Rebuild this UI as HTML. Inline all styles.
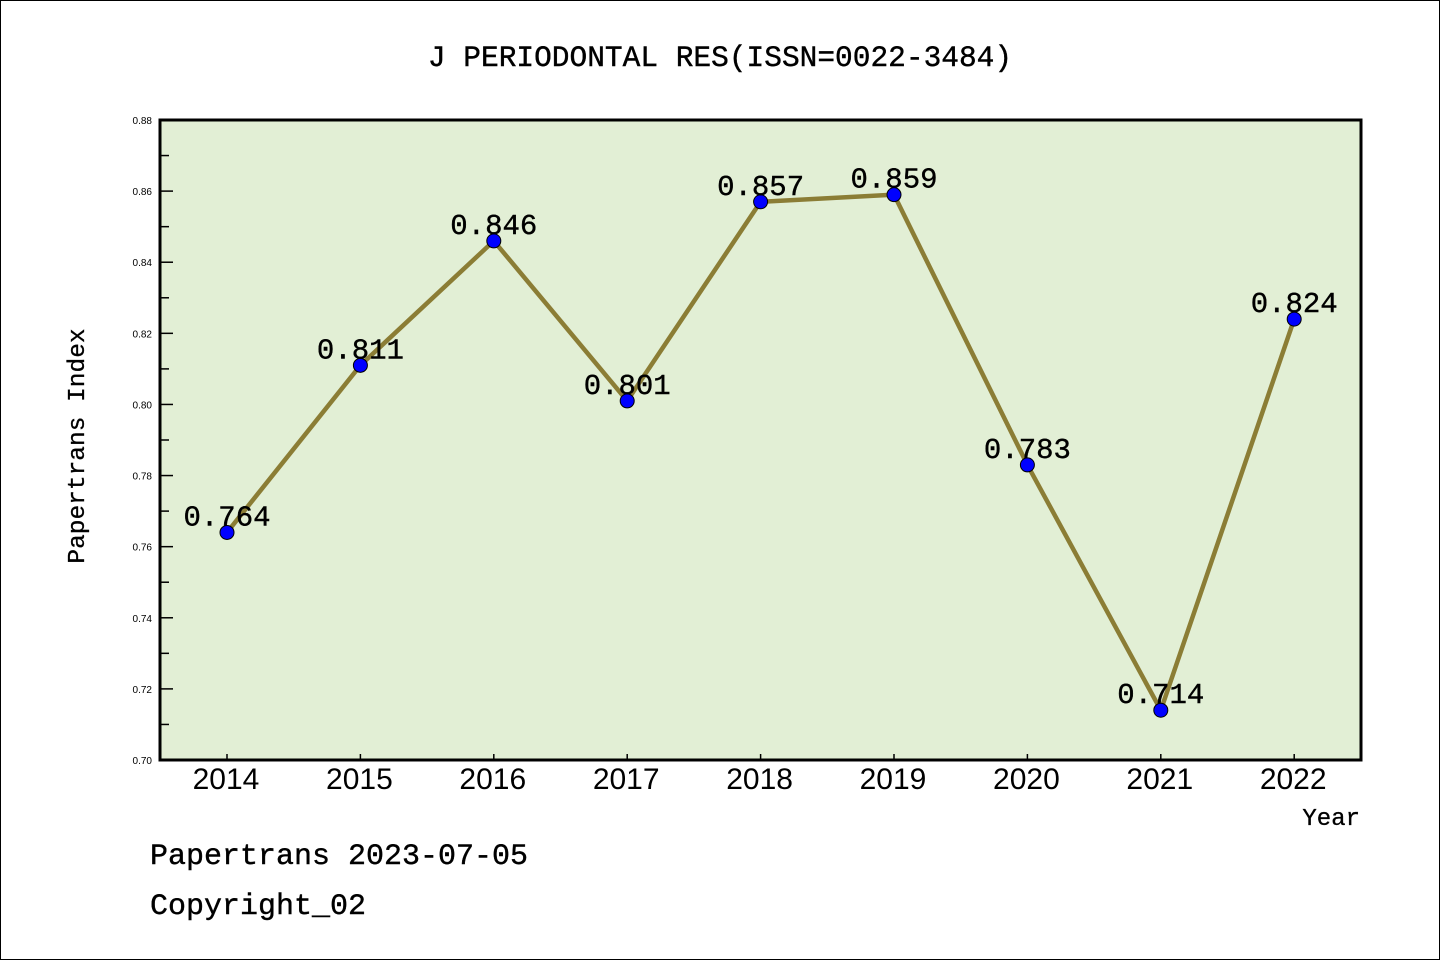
<!DOCTYPE html>
<html><head><meta charset="utf-8"><style>
html,body{margin:0;padding:0;background:#fff;}
svg{display:block;}
</style></head><body>
<svg id="chart" width="1440" height="960" xmlns="http://www.w3.org/2000/svg">
<rect x="0.5" y="0.5" width="1439" height="959" fill="#fff" stroke="#000" stroke-width="1"/>
<text x="720" y="66" text-anchor="middle" font-family="Liberation Mono, monospace" font-size="29.5" stroke="#000" stroke-width="0.4">J PERIODONTAL RES(ISSN=0022-3484)</text>
<rect x="160" y="120" width="1201" height="640" fill="#e2efd5"/>
<g id="axes"></g>
<g id="series"></g>
<rect x="160" y="120" width="1201" height="640" fill="none" stroke="#000" stroke-width="3"/>
<text transform="translate(84,446) rotate(-90)" text-anchor="middle" font-family="Liberation Mono, monospace" font-size="24.5" stroke="#000" stroke-width="0.3">Papertrans Index</text>
<text x="1360" y="825" text-anchor="end" font-family="Liberation Mono, monospace" font-size="24" stroke="#000" stroke-width="0.3">Year</text>
<text x="150" y="864" font-family="Liberation Mono, monospace" font-size="30" stroke="#000" stroke-width="0.4">Papertrans 2023-07-05</text>
<text x="150" y="914" font-family="Liberation Mono, monospace" font-size="30" stroke="#000" stroke-width="0.4">Copyright_02</text>
</svg>
<script>
const years = ["2014","2015","2016","2017","2018","2019","2020","2021","2022"];
const values = [0.764,0.811,0.846,0.801,0.857,0.859,0.783,0.714,0.824];
const yTicks = ["0.70","0.72","0.74","0.76","0.78","0.80","0.82","0.84","0.86","0.88"];
const NS="http://www.w3.org/2000/svg";
const yMin=0.70,yMax=0.88,plotTop=120,plotBot=760,plotLeft=160;
function ys(v){return plotBot-(v-yMin)/(yMax-yMin)*(plotBot-plotTop);}
function xs(i){return 227+i*133.4;}
function mk(t,a,p){const e=document.createElementNS(NS,t);for(const k in a)e.setAttribute(k,a[k]);p.appendChild(e);return e;}
const axesG=document.getElementById('axes'),serG=document.getElementById('series');
yTicks.forEach((t,i)=>{
  const v=parseFloat(t),y=ys(v);
  const l=mk('line',{x1:plotLeft,x2:plotLeft+13,y1:y,y2:y,stroke:'#000','stroke-width':1.5},axesG);
  
  
  const tx=mk('text',{x:152,y:y+4,'text-anchor':'end','font-family':'Liberation Sans, sans-serif','font-size':10},axesG);
  tx.textContent=t;
  
  
  if(i<yTicks.length-1){
    const ym=ys(v+0.01);
    const m=mk('line',{x1:plotLeft,x2:plotLeft+9,y1:ym,y2:ym,stroke:'#000','stroke-width':1.5},axesG);
    
    
  }
});
years.forEach((yr,i)=>{
  const x=xs(i);
  const l=mk('line',{x1:x,x2:x,y1:plotBot,y2:plotBot-6,stroke:'#000','stroke-width':1.5},axesG);
  
  
  const tx=mk('text',{x:x-1,y:789,'text-anchor':'middle','font-family':'Liberation Sans, sans-serif','font-size':30},axesG);
  tx.textContent=yr;
  
  
});
const pl=mk('polyline',{points:values.map((v,i)=>xs(i)+','+ys(v)).join(' '),fill:'none',stroke:'#8b7d35','stroke-width':4.5,'stroke-linejoin':'round'},serG);


values.forEach((v,i)=>{
  const c=mk('circle',{cx:xs(i),cy:ys(v),r:7,fill:'#0000ff',stroke:'#000','stroke-width':1},serG);
  
  
  const t=mk('text',{x:xs(i),y:ys(v)-7,'text-anchor':'middle','font-family':'Liberation Mono, monospace','font-size':29,stroke:'#000','stroke-width':0.4},serG);
  t.textContent=v.toFixed(3);
  
  
});
</script>
</body></html>
